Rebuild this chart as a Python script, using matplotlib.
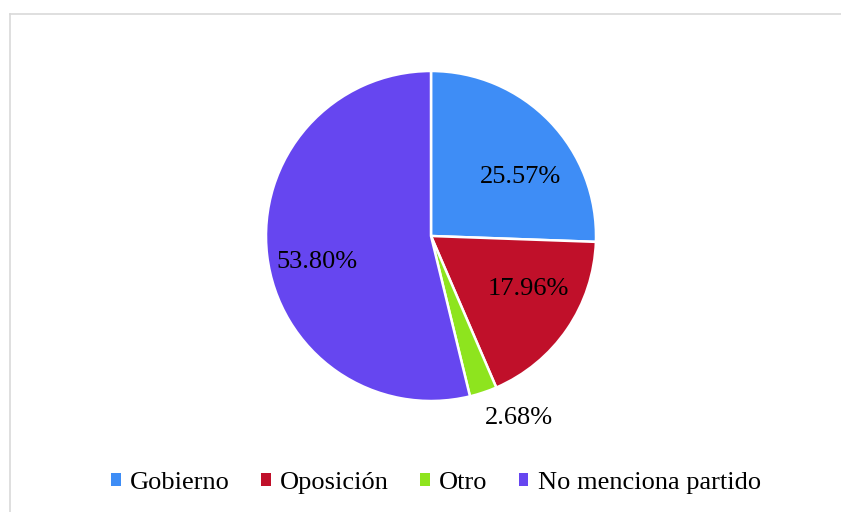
import matplotlib.pyplot as plt
from matplotlib.patches import Patch
from matplotlib.lines import Line2D

plt.rcParams['font.family'] = ['Liberation Serif', 'DejaVu Serif']

# datos
categorias = ['Gobierno', 'Oposición', 'Otro', 'No menciona partido']
porcentajes = [25.57, 17.96, 2.68, 53.80]
colores = ['#3E8DF6', '#C0102A', '#8EE41E', '#6646F0']
# posición de las etiquetas (en radios del pastel)
pos_etiquetas = [(0.54, 0.36), (0.59, -0.32), (0.53, -1.10), (-0.69, -0.16)]

W, H = 841, 512
fig = plt.figure(figsize=(W / 100, H / 100), dpi=100)

# marco gris (recortado a la derecha y abajo)
fig.add_artist(Line2D([9.5 / W, 9.5 / W], [0, 1 - 13.5 / H], transform=fig.transFigure,
                      color='#D9D9D9', linewidth=1.2))
fig.add_artist(Line2D([9.5 / W, 1], [1 - 13.5 / H, 1 - 13.5 / H], transform=fig.transFigure,
                      color='#D9D9D9', linewidth=1.2))

cx, cy, r = 431, 236, 165
ax = fig.add_axes([(cx - r) / W, (H - cy - r) / H, 2 * r / W, 2 * r / H])
wedges, _, autotexts = ax.pie(
    porcentajes, colors=colores, startangle=90, counterclock=False,
    autopct=lambda p: '', radius=1,
    wedgeprops=dict(edgecolor='white', linewidth=1.8))
ax.set_xlim(-1, 1)
ax.set_ylim(-1, 1)
ax.axis('off')

for val, (x, y) in zip(porcentajes, pos_etiquetas):
    ax.text(x, y, f'{val:.2f}%', ha='center', va='center', fontsize=19, color='black',
            clip_on=False)

handles = [Patch(facecolor=c, edgecolor='none') for c in colores]
fig.legend(handles, categorias, loc='center', bbox_to_anchor=(436 / W, 1 - 483 / H),
           ncol=4, frameon=False, fontsize=19, handlelength=0.35, handleheight=0.35,
           handletextpad=0.35, columnspacing=1.2)

fig.savefig('out.png', dpi=100, facecolor='white')
